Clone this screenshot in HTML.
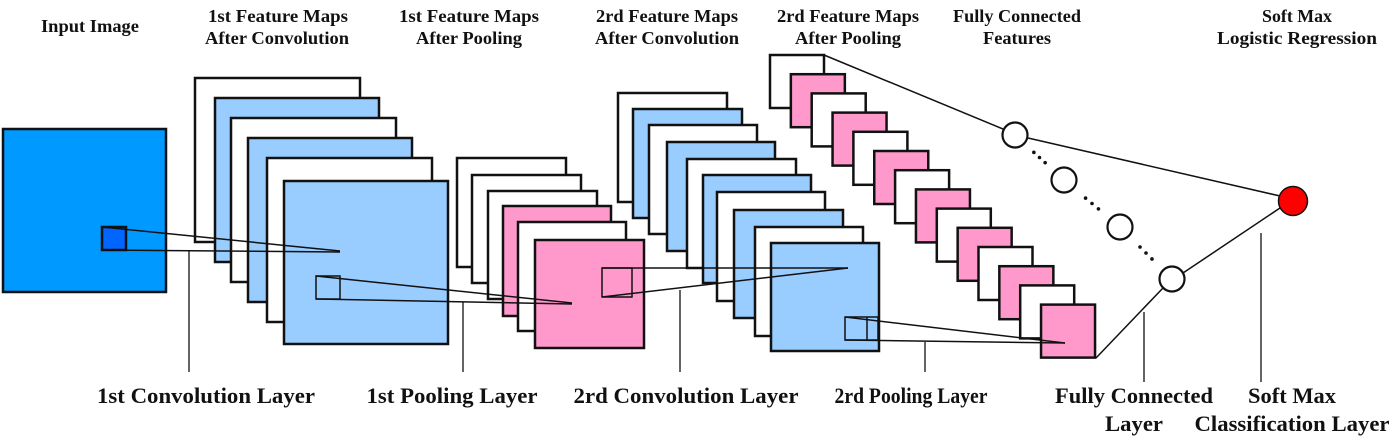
<!DOCTYPE html>
<html><head><meta charset="utf-8"><style>
html,body{margin:0;padding:0;background:#fff;width:1392px;height:436px;overflow:hidden}
svg{display:block}
text{font-family:"Liberation Serif",serif;font-weight:bold;fill:#111}
.t{font-size:18px}
.b{font-size:22px}
</style></head><body>
<svg id="s" width="1392" height="436" viewBox="0 0 1392 436">
<g id="maps" stroke="#111" stroke-width="2.5"></g>
<g id="lines" stroke="#111" stroke-width="1.5" fill="none"></g>
<g id="labels"></g>
</svg>
<script>
const NS='http://www.w3.org/2000/svg';
const maps=document.getElementById('maps');
const lines=document.getElementById('lines');
const labels=document.getElementById('labels');
function rect(x1,y1,x2,y2,fill,name){const r=document.createElementNS(NS,'rect');r.setAttribute('x',x1);r.setAttribute('y',y1);r.setAttribute('width',x2-x1);r.setAttribute('height',y2-y1);r.setAttribute('fill',fill);


return r;}
const W='#fff',B='#99ccff',P='#ff99cc';
maps.appendChild(rect(3,129,166,292,'#0099ff','input-image'));
maps.appendChild(rect(102,227,126,250,'#0066ff','input-kernel'));
const c1=[[195,78,360,242,W],[215,98,379,262,B],[231,118,396,282,W],[248,138,412,302,B],[267,158,432,322,W],[284,181,448,344,B]];
c1.forEach(a=>maps.appendChild(rect(a[0],a[1],a[2],a[3],a[4],'conv1-feature-map')));
const p1=[[457,158,566,267,W],[472,175,581,283,W],[488,191,597,299,W],[503,206,611,316,P],[518,222,626,331,W],[535,240,644,348,P]];
p1.forEach(a=>maps.appendChild(rect(a[0],a[1],a[2],a[3],a[4],'pool1-feature-map')));
const c2=[[618,93,727,202,W],[633,109,742,218,B],[649,125,757,234,W],[667,142,775,251,B],[687,159,796,268,W],[703,175,811,283,B],[717,192,825,301,W],[734,210,843,318,B],[755,227,863,336,W],[771,243,879,351,B]];
c2.forEach(a=>maps.appendChild(rect(a[0],a[1],a[2],a[3],a[4],'conv2-feature-map')));
for(let i=0;i<14;i++){const x=770+i*20.85,y=55+i*19.2;maps.appendChild(rect(x,y,x+54,y+53,i%2?P:W,'pool2-feature-map'));}
function ln(x1,y1,x2,y2,name,w){const l=document.createElementNS(NS,'line');l.setAttribute('x1',x1);l.setAttribute('y1',y1);l.setAttribute('x2',x2);l.setAttribute('y2',y2);if(w)l.setAttribute('stroke-width',w);


lines.appendChild(l);}
function sq(x1,y1,x2,y2,name){const r=rect(x1,y1,x2,y2,'none',name);lines.appendChild(r);}
sq(316,276,340,299,'conv1-kernel');
sq(602,268,632,297,'pool1-kernel');
sq(845,317,878,340,'conv2-kernel');ln(867,317,867,340,'conv2-kernel-divider');
ln(102,227,340,251,'proj-line');ln(102,250,340,252,'proj-line');
ln(316,276,572,303,'proj-line');ln(316,299,572,304,'proj-line');
ln(602,268,848,268,'proj-line');ln(602,297,848,268,'proj-line');
ln(845,317,1065,343,'proj-line');ln(845,340,1065,343,'proj-line');
ln(189,251,189,372,'conv1-leader',1.3);ln(463,302,463,372,'pool1-leader',1.3);ln(680,290,680,372,'conv2-leader',1.3);ln(925,342,925,372,'pool2-leader',1.3);
ln(1144,312,1144,382,'fc-leader',1.3);ln(1261,233,1261,382,'softmax-leader',1.3);
ln(824,55,1003,129,'fc-line');ln(1028,138,1280,196,'fc-line');ln(1096,358,1163,288,'fc-line');ln(1183,273,1280,208,'fc-line');
const circ=[[1015,135],[1064,180],[1120,227],[1172,279]];
circ.forEach(c=>{const e=document.createElementNS(NS,'circle');e.setAttribute('cx',c[0]);e.setAttribute('cy',c[1]);e.setAttribute('r',12.5);e.setAttribute('fill','#fff');e.setAttribute('stroke-width',2.2);


lines.appendChild(e);});
for(let k=0;k<3;k++){for(let j=1;j<=3;j++){const a=circ[k],b=circ[k+1];const t=0.27+j*0.115;const d=document.createElementNS(NS,'circle');d.setAttribute('cx',a[0]+(b[0]-a[0])*t);d.setAttribute('cy',a[1]+(b[1]-a[1])*t);d.setAttribute('r',1.8);d.setAttribute('fill','#111');d.setAttribute('stroke','none');


lines.appendChild(d);}}
const red=document.createElementNS(NS,'circle');red.setAttribute('cx',1293);red.setAttribute('cy',201);red.setAttribute('r',14.5);red.setAttribute('fill','#ff0000');red.setAttribute('stroke-width',1.5);


lines.appendChild(red);
function tx(s,cx,y,cls,len,name){const t=document.createElementNS(NS,'text');t.textContent=s;t.setAttribute('x',cx);t.setAttribute('y',y);t.setAttribute('class',cls);t.setAttribute('text-anchor','middle');t.setAttribute('textLength',len);t.setAttribute('lengthAdjust','spacingAndGlyphs');


labels.appendChild(t);}
tx('Input Image',90,32,'t',98,'input-image-title');
tx('1st Feature Maps',278,22,'t',140,'conv1-title');tx('After Convolution',277,44,'t',144,'conv1-title');
tx('1st Feature Maps',469,22,'t',140,'pool1-title');tx('After Pooling',469,44,'t',106,'pool1-title');
tx('2rd Feature Maps',667,22,'t',142,'conv2-title');tx('After Convolution',667,44,'t',144,'conv2-title');
tx('2rd Feature Maps',848,22,'t',142,'pool2-title');tx('After Pooling',848,44,'t',106,'pool2-title');
tx('Fully Connected',1017,22,'t',128,'fc-title');tx('Features',1017,44,'t',68,'fc-title');
tx('Soft Max',1297,22,'t',70,'softmax-title');tx('Logistic Regression',1297,44,'t',160,'softmax-title');
tx('1st Convolution Layer',206,403,'b',218,'conv1-label');
tx('1st Pooling Layer',452,403,'b',171,'pool1-label');
tx('2rd Convolution Layer',686,403,'b',225,'conv2-label');
tx('2rd Pooling Layer',911,403,'b',153,'pool2-label');
tx('Fully Connected',1134,403,'b',158,'fc-label');tx('Layer',1134,431,'b',58,'fc-label');
tx('Soft Max',1292,403,'b',88,'softmax-label');tx('Classification Layer',1292,431,'b',195,'softmax-label');
</script>
</body></html>
